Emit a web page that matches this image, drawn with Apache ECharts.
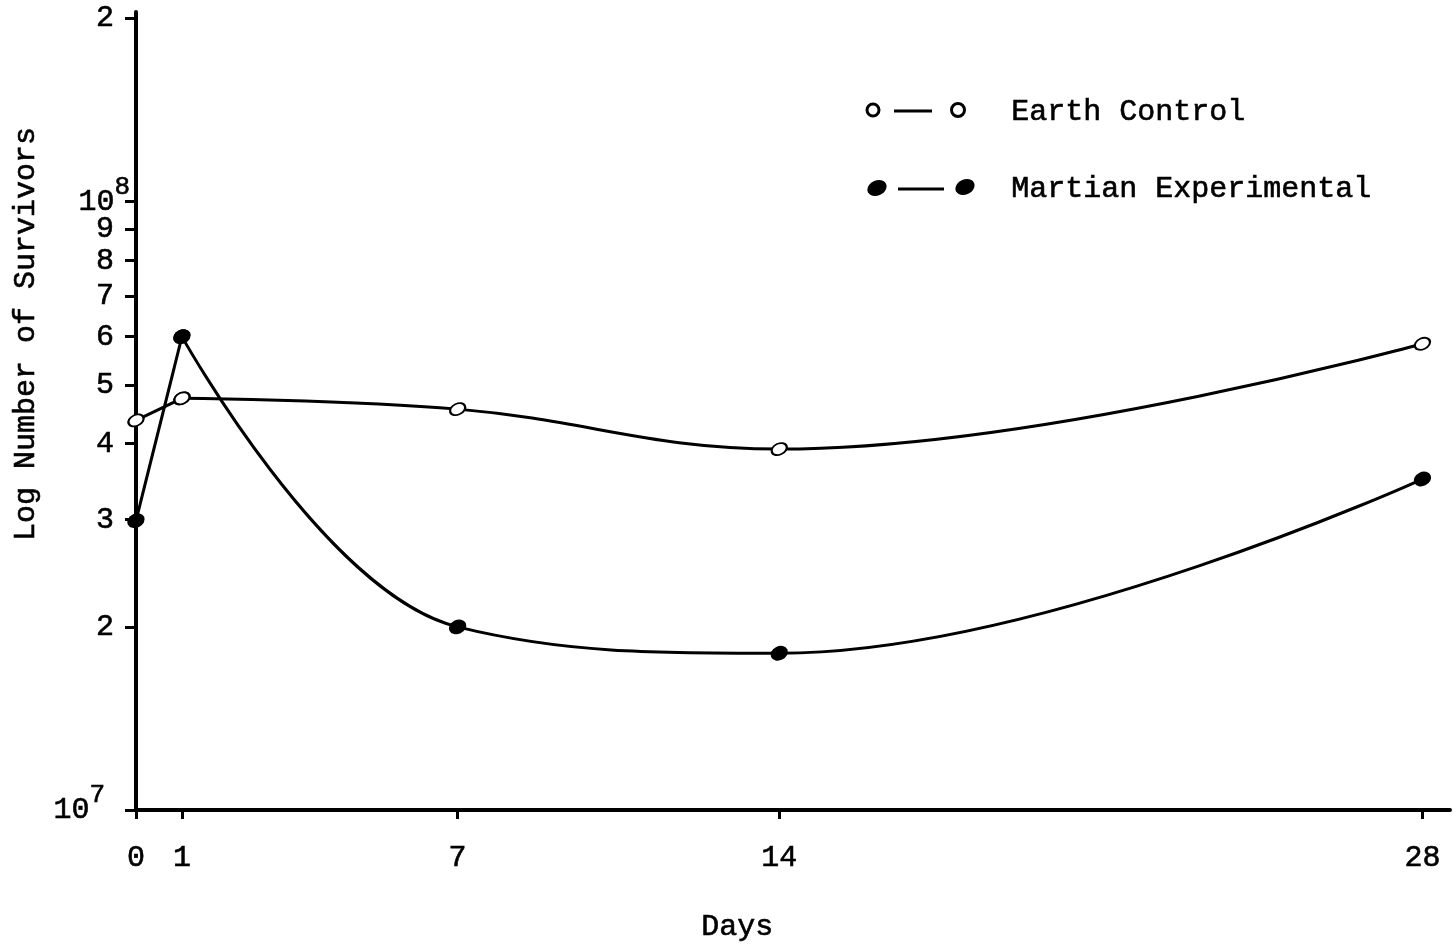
<!DOCTYPE html>
<html>
<head>
<meta charset="utf-8">
<script src="https://cdn.jsdelivr.net/npm/echarts@6/dist/echarts.min.js"></script>
<style>
  html, body { margin: 0; padding: 0; background: #fff; }
  #chart { width: 1456px; height: 946px; }
</style>
</head>
<body>
<div id="chart"></div>
<script>
// ---- data ----
const days = [0, 1, 7, 14, 28];
const earthControl = [4.37e7, 4.75e7, 4.56e7, 3.92e7, 5.84e7];
const martianExperimental = [2.99e7, 6.0e7, 2.0e7, 1.81e7, 3.5e7];
const xTickValues = [0, 1, 7, 14, 28];
const xTickLabels = ['0', '1', '7', '14', '28'];
const yTickValues = [1e7, 2e7, 3e7, 4e7, 5e7, 6e7, 7e7, 8e7, 9e7, 1e8, 2e8];
const yTickLabels = ['10^7', '2', '3', '4', '5', '6', '7', '8', '9', '10^8', '2'];
const seriesNames = ['Earth Control', 'Martian Experimental'];
const xAxisTitle = 'Days';
const yAxisTitle = 'Log Number of Survivors';

const FONT = '"Liberation Mono", "Courier New", monospace';
const FS = 30;
const TB = 0.6; // text thickening (typewriter look)

function pairs(xs, ys) { return xs.map((x, i) => [x, ys[i]]); }
// first segment (day 0 -> day 1) is drawn straight, the rest smoothed
const earthHead = pairs(days, earthControl).slice(0, 2);
const earthTail = pairs(days, earthControl).slice(1);
const marsHead = pairs(days, martianExperimental).slice(0, 2);
const marsTail = pairs(days, martianExperimental).slice(1);

function yLabel(v) {
  let val = v;
  if (val < 1000) val = Math.pow(10, val);
  let best = 0, bd = Infinity;
  yTickValues.forEach((t, i) => {
    const d = Math.abs(Math.log10(t) - Math.log10(val));
    if (d < bd) { bd = d; best = i; }
  });
  const s = yTickLabels[best];
  if (s.indexOf('^') >= 0) {
    const p = s.split('^');
    return '{b|' + p[0] + '}{s|' + p[1] + '}' + (best === 0 ? '{g|}' : '');
  }
  return '{d|' + s + '}';
}

const txt = { fontFamily: FONT, fontSize: FS, color: '#000', textBorderColor: '#000', textBorderWidth: TB };

const chart = echarts.init(document.getElementById('chart'), null, { renderer: 'canvas' });
const lineStyle = { color: '#000', width: 3 };
const earthItem = { color: '#000', borderColor: '#000', borderWidth: 2.5 };
const marsItem = { color: '#000' };
chart.setOption({
  backgroundColor: '#ffffff',
  animation: false,
  grid: { left: 136, right: 6, top: 12, bottom: 136, containLabel: false },
  xAxis: {
    type: 'value',
    min: 0,
    max: 28.6,
    splitLine: { show: false },
    axisLine: { show: true, onZero: false, lineStyle: { color: '#000', width: 4 } },
    axisTick: { show: true, inside: false, length: 9, customValues: xTickValues, lineStyle: { color: '#000', width: 3 } },
    axisLabel: Object.assign({
      customValues: xTickValues,
      margin: 33,
      formatter: function (v) {
        const i = xTickValues.indexOf(Math.round(v));
        return i >= 0 ? xTickLabels[i] : '';
      }
    }, txt)
  },
  yAxis: {
    type: 'log',
    logBase: 10,
    min: 1e7,
    max: 2.05e8,
    splitLine: { show: false },
    minorTick: { show: false },
    axisLine: { show: true, onZero: false, lineStyle: { color: '#000', width: 4 } },
    axisTick: { show: true, inside: false, length: 11, customValues: yTickValues, lineStyle: { color: '#000', width: 3 } },
    axisLabel: Object.assign({
      customValues: yTickValues,
      margin: 6,
      formatter: yLabel,
      rich: {
        b: Object.assign({}, txt),
        d: Object.assign({ padding: [0, 16, 0, 0] }, txt),
        s: Object.assign({}, txt, { fontSize: 26, padding: [0, 0, 30, 0] }),
        g: { width: 25 }
      }
    }, txt)
  },
  series: [
    {
      name: seriesNames[0], type: 'line', data: earthHead, smooth: false,
      symbol: 'emptyCircle', symbolSize: [16, 11], symbolRotate: 25,
      lineStyle: lineStyle, itemStyle: earthItem, z: 3
    },
    {
      name: seriesNames[0], type: 'line', data: earthTail, smooth: 0.4,
      symbol: 'emptyCircle', symbolSize: [16, 11], symbolRotate: 25,
      lineStyle: lineStyle, itemStyle: earthItem, z: 3
    },
    {
      name: seriesNames[1], type: 'line', data: marsHead, smooth: false,
      symbol: 'circle', symbolSize: [18, 14], symbolRotate: 25,
      lineStyle: lineStyle, itemStyle: marsItem, z: 4
    },
    {
      name: seriesNames[1], type: 'line', data: marsTail, smooth: 0.4,
      symbol: 'circle', symbolSize: [18, 14], symbolRotate: 25,
      lineStyle: lineStyle, itemStyle: marsItem, z: 4
    }
  ],
  graphic: [
    { type: 'text', left: 701, top: 912, style: { text: xAxisTitle, font: FS + 'px ' + FONT, fill: '#000', stroke: '#000', lineWidth: TB } },
    { type: 'text', x: 11, y: 541, rotation: Math.PI / 2, style: { text: yAxisTitle, font: FS + 'px ' + FONT, fill: '#000', stroke: '#000', lineWidth: TB, textVerticalAlign: 'top' } },
    // legend: Earth Control
    { type: 'ellipse', shape: { cx: 873, cy: 110, rx: 6, ry: 6 }, style: { fill: '#fff', stroke: '#000', lineWidth: 3 } },
    { type: 'line', shape: { x1: 894, y1: 111, x2: 932, y2: 111 }, style: { stroke: '#000', lineWidth: 3 } },
    { type: 'ellipse', shape: { cx: 958, cy: 110, rx: 6.5, ry: 6.5 }, style: { fill: '#fff', stroke: '#000', lineWidth: 3 } },
    { type: 'text', left: 1011, top: 97, style: { text: seriesNames[0], font: FS + 'px ' + FONT, fill: '#000', stroke: '#000', lineWidth: TB } },
    // legend: Martian Experimental
    { type: 'ellipse', shape: { cx: 0, cy: 0, rx: 10, ry: 7.5 }, x: 877, y: 188, rotation: 0.45, style: { fill: '#000' } },
    { type: 'line', shape: { x1: 898, y1: 189, x2: 944, y2: 189 }, style: { stroke: '#000', lineWidth: 3 } },
    { type: 'ellipse', shape: { cx: 0, cy: 0, rx: 10, ry: 7.5 }, x: 965, y: 187, rotation: 0.45, style: { fill: '#000' } },
    { type: 'text', left: 1011, top: 174, style: { text: seriesNames[1], font: FS + 'px ' + FONT, fill: '#000', stroke: '#000', lineWidth: TB } }
  ]
});
</script>
</body>
</html>
